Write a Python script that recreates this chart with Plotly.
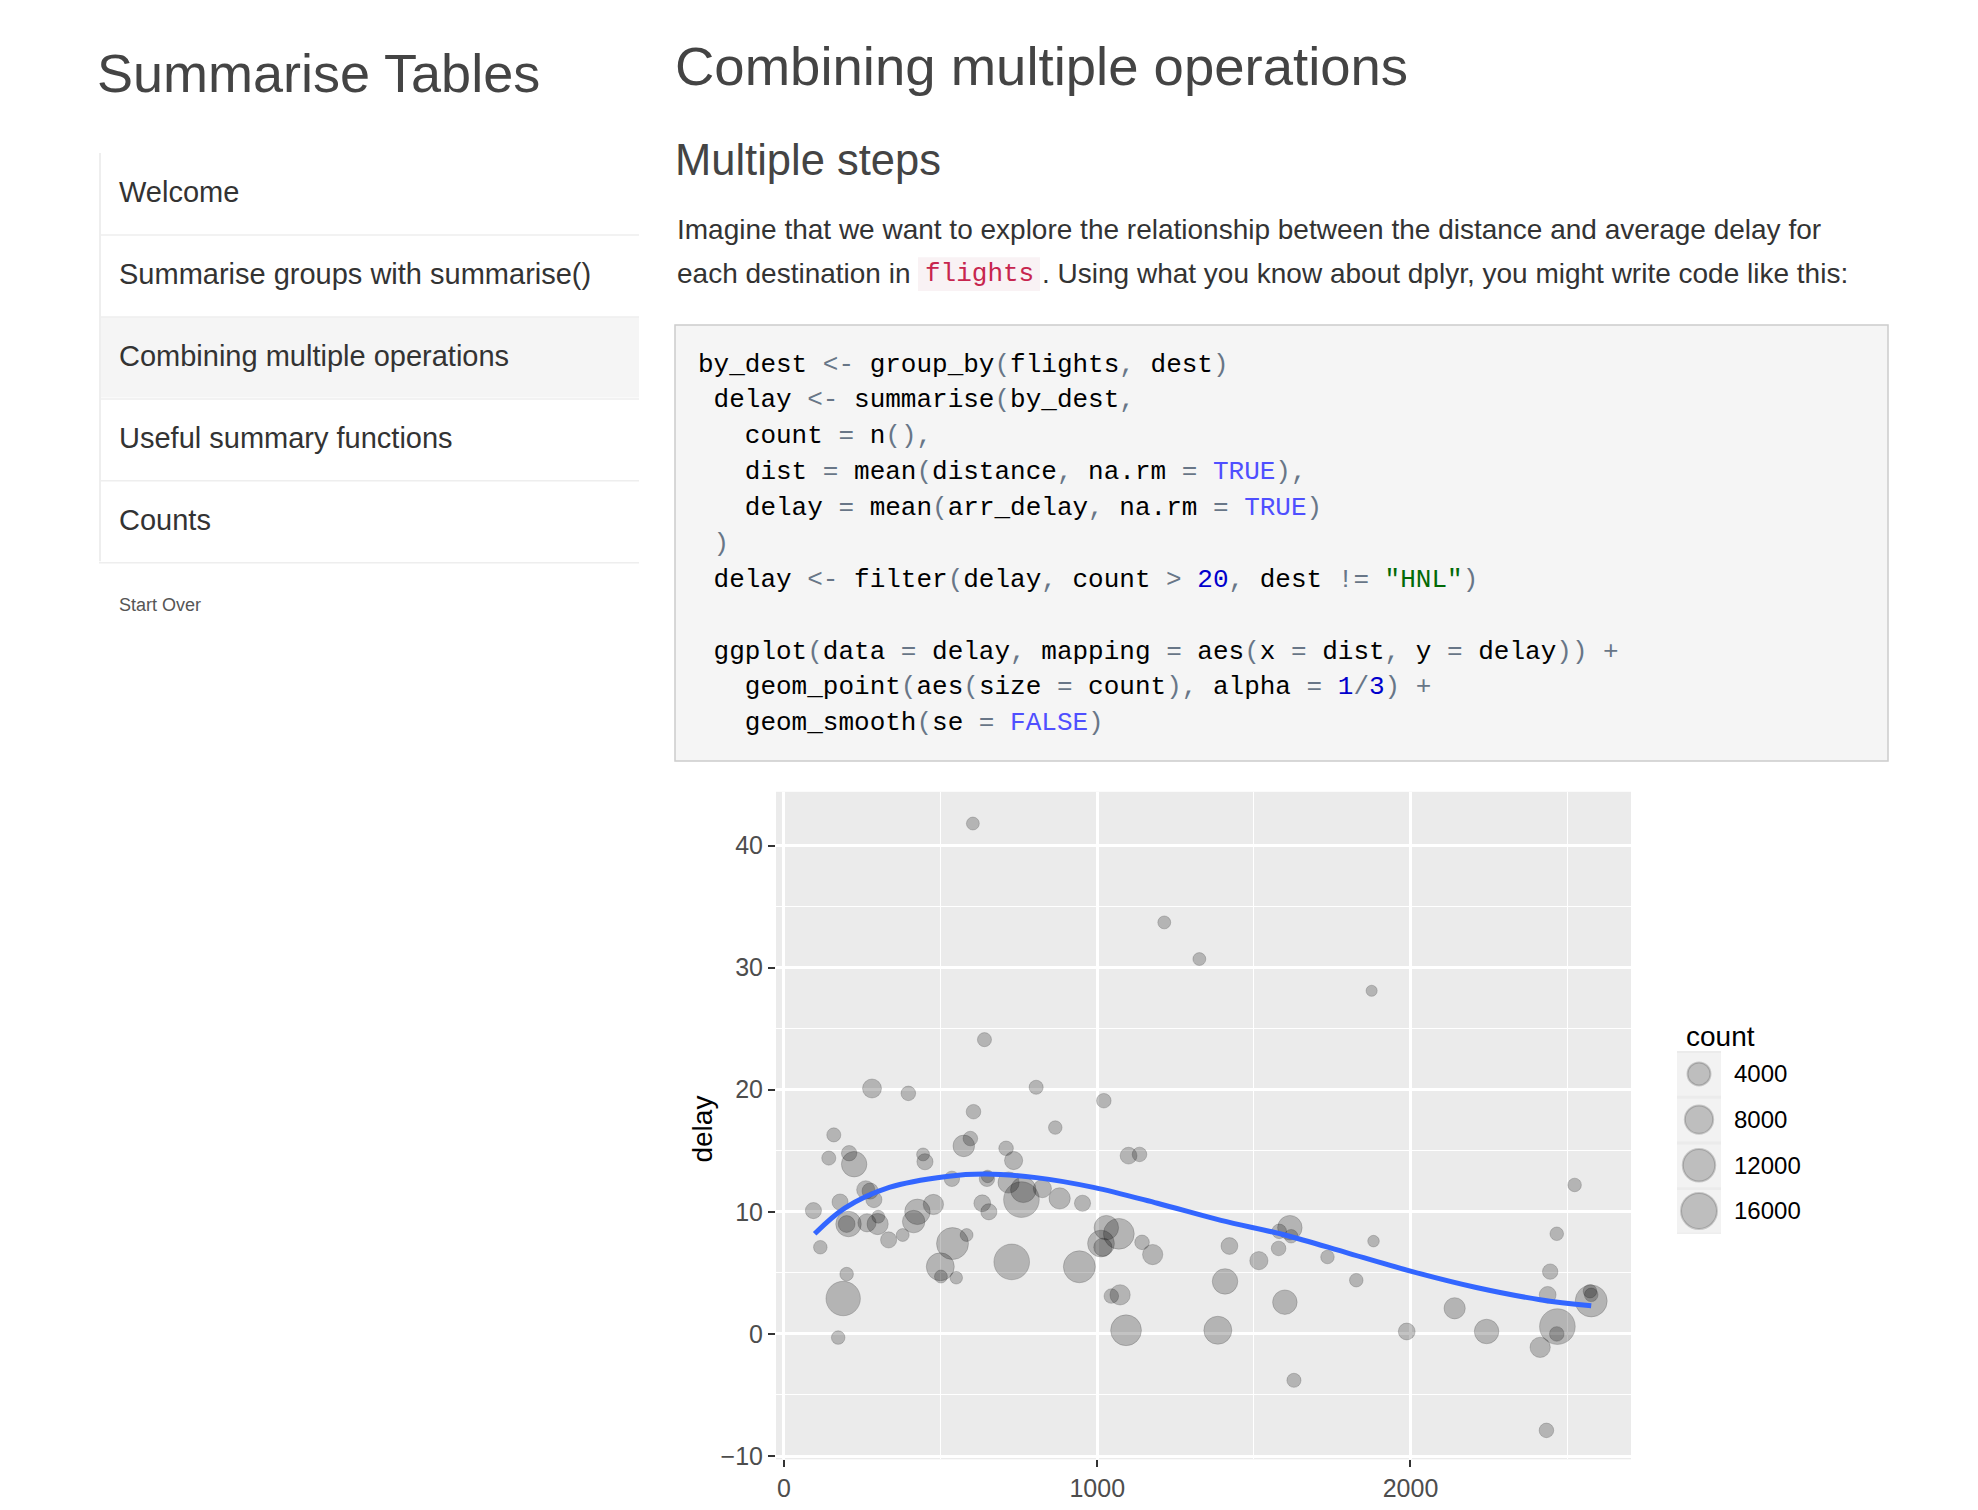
import re
import plotly.graph_objects as go

W, H = 1978, 1510

# flights summary: mean distance, mean arrival delay, flight count per destination
dist = [603, 1214, 1326, 1876, 640, 281, 397, 805, 1021, 605, 866, 159, 595, 574, 709, 208,
        143, 444, 1100, 1135, 450, 733, 224, 536, 648, 650, 717, 758, 764, 825, 880, 953,
        261, 275, 287, 179, 94, 426, 477, 633, 654, 414, 206, 200, 265, 299, 301, 334,
        379, 583, 116, 538, 499, 501, 550, 200, 189, 173, 727, 943, 1029, 1069, 1012, 1018,
        1143, 1177, 1045, 1073, 1092, 1385, 1408, 1422, 1516, 1579, 1581, 1615, 1619, 1599,
        1628, 1735, 1827, 1882, 1988, 2141, 2243, 2414, 2434, 2469, 2467, 2438, 2446, 2467,
        2524, 2577, 2573, 2577]
delay = [41.8, 33.7, 30.7, 28.1, 24.1, 20.1, 19.7, 20.2, 19.1, 18.2, 16.9, 16.3, 16.0, 15.4,
         15.2, 14.8, 14.4, 14.7, 14.6, 14.7, 14.1, 14.2, 13.9, 12.7, 12.7, 12.9, 12.4, 11.0,
         11.8, 11.9, 11.1, 10.7, 11.8, 11.7, 11.0, 10.8, 10.1, 10.0, 10.6, 10.7, 10.0, 9.2,
         9.0, 9.0, 9.1, 9.0, 9.6, 7.7, 8.1, 8.1, 7.1, 7.4, 5.5, 4.7, 4.6, 4.9, 2.9, -0.3,
         5.9, 5.5, 8.7, 8.2, 7.4, 7.1, 7.5, 6.5, 3.1, 3.2, 0.3, 0.3, 4.3, 7.2, 6.0, 7.0,
         8.4, 8.7, 8.0, 2.6, -3.8, 6.3, 4.4, 7.6, 0.2, 2.1, 0.2, -1.1, -7.9, 0.6, 0.0, 3.2,
         5.1, 8.2, 12.2, 2.7, 3.5, 3.2]
count = [200, 200, 200, 30, 400, 1900, 500, 400, 500, 500, 300, 400, 500, 3200, 500, 700,
         400, 200, 1100, 500, 900, 1600, 5700, 700, 700, 150, 3000, 15700, 5700, 1600, 3000,
         900, 1600, 900, 900, 900, 900, 5700, 2500, 1100, 900, 3700, 5700, 1100, 1600, 3000,
         200, 900, 200, 200, 300, 11500, 7700, 200, 150, 300, 14200, 300, 15700, 11500, 5000,
         10300, 6700, 1600, 500, 2500, 500, 2500, 10300, 7700, 5700, 1100, 1600, 500, 500,
         5000, 300, 5000, 400, 300, 300, 60, 1100, 3000, 5000, 2500, 500, 15700, 500, 1100,
         700, 300, 300, 11500, 300, 300]

smooth_x = [98, 194, 336, 519, 642, 805, 988, 1192, 1395, 1599, 1803, 2006, 2210, 2414, 2577]
smooth_y = [8.2, 10.3, 12.0, 12.9, 13.1, 12.8, 12.0, 10.7, 9.3, 8.1, 6.6, 5.1, 3.8, 2.8, 2.3]

legend_counts = [4000, 8000, 12000, 16000]
nav_items = ["Welcome", "Summarise groups with summarise()", "Combining multiple operations",
             "Useful summary functions", "Counts"]

code_lines = [
    'by_dest <- group_by(flights, dest)',
    ' delay <- summarise(by_dest,',
    '   count = n(),',
    '   dist = mean(distance, na.rm = TRUE),',
    '   delay = mean(arr_delay, na.rm = TRUE)',
    ' )',
    ' delay <- filter(delay, count > 20, dest != "HNL")',
    '',
    ' ggplot(data = delay, mapping = aes(x = dist, y = delay)) +',
    '   geom_point(aes(size = count), alpha = 1/3) +',
    '   geom_smooth(se = FALSE)',
]

OFF = 9  # page body margin offset


def diam(c):
    return 10 + 0.205 * c ** 0.5


def px(x):
    return (x - OFF) / W


def py(y):
    return 1 - (y - OFF) / H


def colour_code(line):
    out = []
    for tok in re.findall(r'"[^"]*"|[A-Za-z_.][A-Za-z_.0-9]*|\d+|\s+|.', line):
        t = tok.replace(" ", "\u00a0")
        if tok.startswith('"'):
            out.append('<span style="color:#036a07">%s</span>' % t)
        elif tok in ("TRUE", "FALSE"):
            out.append('<span style="color:#4f4fff">%s</span>' % t)
        elif tok.isdigit():
            out.append('<span style="color:#0000cc">%s</span>' % t)
        elif re.match(r'[A-Za-z_.]', tok) or tok.isspace():
            out.append(t)
        else:
            out.append('<span style="color:#687687">%s</span>' % t)
    return "".join(out) or "\u00a0"


fig = go.Figure()

fig.add_trace(go.Scatter(
    x=dist, y=delay, mode="markers", showlegend=False, hoverinfo="skip",
    marker=dict(size=[diam(c) for c in count], sizemode="diameter",
                color="rgba(0,0,0,0.33)", line=dict(color="rgba(0,0,0,0.25)", width=1)),
))
fig.add_trace(go.Scatter(
    x=smooth_x, y=smooth_y, mode="lines", line=dict(color="#3366ff", width=5, shape="spline"),
    showlegend=False, hoverinfo="skip",
))
fig.add_trace(go.Scatter(
    x=[0] * len(legend_counts), y=list(range(len(legend_counts))), xaxis="x2", yaxis="y2",
    mode="markers", showlegend=False, hoverinfo="skip",
    marker=dict(size=[diam(c) for c in legend_counts], sizemode="diameter",
                color="rgba(0,0,0,0.3)", line=dict(color="rgba(0,0,0,0.25)", width=2)),
))

shapes = []
ann = []

# sidebar
shapes.append(dict(type="rect", xref="paper", yref="paper", x0=px(100), x1=px(640),
                   y0=py(401), y1=py(320), fillcolor="#f5f5f5", line_width=0, layer="below"))
shapes.append(dict(type="line", xref="paper", yref="paper", x0=px(101), x1=px(101),
                   y0=py(566), y1=py(155), line=dict(color="#eeeeee", width=2)))
for i, item in enumerate(nav_items):
    yb = 155 + 82.5 * (i + 1)
    shapes.append(dict(type="line", xref="paper", yref="paper", x0=px(100), x1=px(640),
                       y0=py(yb), y1=py(yb), line=dict(color="#eeeeee", width=1.5)))
    ann.append(dict(text=item, x=px(118), y=py(194 + 82.5 * i), xanchor="left", yanchor="middle",
                    font=dict(size=29, color="#333333")))
ann.append(dict(text="Summarise Tables", x=px(96), y=py(74), xanchor="left", yanchor="middle",
                font=dict(size=54, color="#444444")))
ann.append(dict(text="Start Over", x=px(118), y=py(610), xanchor="left", yanchor="middle",
                font=dict(size=18, color="#555555")))

# main column
ann.append(dict(text="Combining multiple operations", x=px(674), y=py(68), xanchor="left",
                yanchor="middle", font=dict(size=54.5, color="#444444")))
ann.append(dict(text="Multiple steps", x=px(674), y=py(162), xanchor="left", yanchor="middle",
                font=dict(size=43.5, color="#444444")))
ann.append(dict(text="Imagine that we want to explore the relationship between the distance and average delay for",
                x=px(676), y=py(232), xanchor="left", yanchor="middle",
                font=dict(size=28, color="#333333")))
shapes.append(dict(type="rect", xref="paper", yref="paper", x0=px(919), x1=px(1041),
                   y0=py(294), y1=py(260), fillcolor="#f9f2f4", line_width=0, layer="below"))
ann.append(dict(text="each destination in", x=px(676), y=py(276), xanchor="left", yanchor="middle",
                font=dict(size=28, color="#333333")))
ann.append(dict(text="flights", x=px(980), y=py(277), xanchor="center", yanchor="middle",
                font=dict(size=26, color="#c7254e", family="Liberation Mono")))
ann.append(dict(text=". Using what you know about dplyr, you might write code like this:",
                x=px(1041), y=py(276), xanchor="left", yanchor="middle",
                font=dict(size=28, color="#333333")))

shapes.append(dict(type="rect", xref="paper", yref="paper", x0=px(676), x1=px(1889),
                   y0=py(767), y1=py(328), fillcolor="#f5f5f5",
                   line=dict(color="#cccccc", width=1.5), layer="below"))
for i, line in enumerate(code_lines):
    ann.append(dict(text=colour_code(line), x=px(697), y=py(368 + 36.1 * i), xanchor="left",
                    yanchor="middle", font=dict(size=26, color="#000000", family="Liberation Mono")))

# legend
ann.append(dict(text="count", x=px(1685), y=py(1044), xanchor="left", yanchor="middle",
                font=dict(size=28, color="#000000")))
for i, c in enumerate(legend_counts):
    yc = 1082 + 46 * i
    shapes.append(dict(type="rect", xref="paper", yref="paper", x0=px(1678), x1=px(1722),
                       y0=py(yc + 22), y1=py(yc - 21), fillcolor="#f2f2f2", line_width=0,
                       layer="below"))
    ann.append(dict(text=str(c), x=px(1733), y=py(yc), xanchor="left", yanchor="middle",
                    font=dict(size=24, color="#000000")))

ann.append(dict(text="delay", x=px(704), y=py(1138), textangle=-90, xanchor="center",
                yanchor="middle", font=dict(size=28, color="#000000")))

for a in ann:
    a.update(xref="paper", yref="paper", showarrow=False)

fig.update_layout(
    width=W, height=H, margin=dict(l=0, r=0, t=0, b=0),
    paper_bgcolor="white", plot_bgcolor="#ebebeb",
    font=dict(family="Liberation Sans, Arial, sans-serif"),
    shapes=shapes, annotations=ann,
    xaxis=dict(domain=[px(777), px(1632)], range=[-25.5, 2704], tickvals=[0, 1000, 2000],
               showgrid=True, gridcolor="white", gridwidth=2.5, zeroline=False,
               ticks="outside", ticklen=7, tickcolor="#333333", tickwidth=2,
               tickfont=dict(size=25, color="#4d4d4d"), anchor="y",
               minor=dict(tickvals=[500, 1500, 2500], showgrid=True, gridcolor="white",
                          gridwidth=1.2, ticks="")),
    yaxis=dict(domain=[py(1470), py(798)], range=[-10.27, 44.4], tickvals=[-10, 0, 10, 20, 30, 40],
               showgrid=True, gridcolor="white", gridwidth=2.5, zeroline=False,
               ticks="outside", ticklen=7, tickcolor="#333333", tickwidth=2,
               tickfont=dict(size=25, color="#4d4d4d"), anchor="x",
               minor=dict(tickvals=[-5, 5, 15, 25, 35], showgrid=True, gridcolor="white",
                          gridwidth=1.2, ticks="")),
    xaxis2=dict(domain=[px(1678), px(1722)], range=[-1, 1], visible=False, anchor="y2"),
    yaxis2=dict(domain=[py(1243), py(1059)], range=[3.5, -0.5], visible=False, anchor="x2"),
)

fig.write_html("out.html")
